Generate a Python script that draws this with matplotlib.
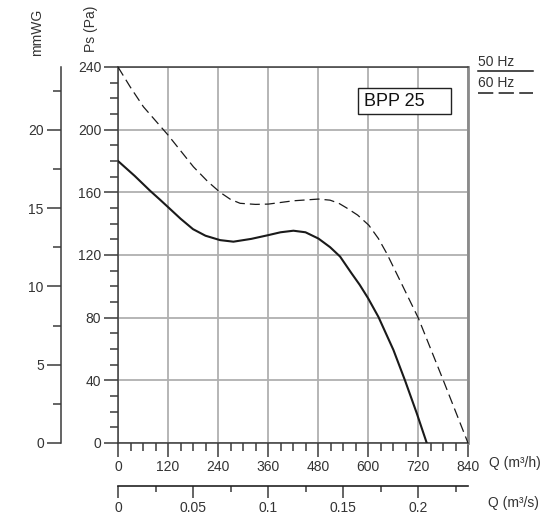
import matplotlib
matplotlib.use("Agg")
import matplotlib.pyplot as plt
from matplotlib.patches import Rectangle
from matplotlib.lines import Line2D
from matplotlib.ticker import MultipleLocator

# curve data: Q in m3/h, Ps in Pa
q_50hz = [0, 40, 77, 100, 120, 150, 180, 210, 245, 277, 320, 361, 390, 421, 450, 481,
          509, 533, 560, 580, 600, 625, 661, 689, 717, 741]
ps_50hz = [180, 170.5, 161, 155.5, 150.6, 143.2, 136.5, 132.3, 129.5, 128.5, 130.3, 132.7, 134.5, 135.5, 134.5, 130.5,
           125, 119, 108.5, 101, 92.5, 80.5, 59.4, 39.8, 19, 0]

q_60hz = [0, 30, 61, 120, 181, 215, 245, 270, 293, 330, 361, 421, 481, 509, 530, 549,
          575, 602, 625, 645, 680, 721, 781, 840]
ps_60hz = [240, 227, 214.6, 196.6, 176.3, 167, 160, 155.5, 153, 152.3, 152.5, 154.6, 155.7, 155, 153, 150,
           145.5, 139, 130.5, 121, 102, 79.6, 39.8, 0]

pa_ticks = [0, 40, 80, 120, 160, 200, 240]
q_ticks = [0, 120, 240, 360, 480, 600, 720, 840]
mmwg_ticks = [0, 5, 10, 15, 20]
qs_ticks = [0, 0.05, 0.1, 0.15, 0.2]
qs_labels = ['0', '0.05', '0.1', '0.15', '0.2']

plt.rcParams['font.family'] = ['Liberation Sans', 'DejaVu Sans']
txt = '#333333'
dark = '#3a3a3a'

W, H = 541, 522
fig = plt.figure(figsize=(W / 100, H / 100), dpi=100)


def fx(px):
    return px / W


def fy(py):
    return 1 - py / H


# main Ps axes
ax = fig.add_axes([fx(118), fy(443), 350 / W, 376 / H])
ax.set_xlim(0, 840)
ax.set_ylim(0, 240)
ax.set_xticks(q_ticks)
ax.set_yticks(pa_ticks)
ax.xaxis.set_minor_locator(MultipleLocator(30))
ax.yaxis.set_minor_locator(MultipleLocator(10))
ax.tick_params(which='major', direction='out', length=10, width=1.1, color=dark,
               labelsize=10, labelcolor=txt, pad=2)
ax.tick_params(which='minor', direction='out', length=5.5, width=1.1, color=dark)
ax.grid(True, which='major', color='#b0b0b0', lw=1.3, zorder=0)
for s in ['left', 'bottom', 'top']:
    ax.spines[s].set_color(dark)
    ax.spines[s].set_linewidth(1.1)
ax.spines['right'].set_color('#8a8a8a')
ax.spines['right'].set_linewidth(2)

ax.plot(q_50hz, ps_50hz, color='#1a1a1a', lw=1.5, zorder=3)
ax.plot(q_60hz, ps_60hz, color='#1a1a1a', lw=0.9, dashes=(8, 4), zorder=3)

# model box
ax.add_patch(Rectangle((fx(358), fy(114)), 93 / W, 26 / H, transform=fig.transFigure,
                       facecolor='white', edgecolor='#222222', lw=1, zorder=4))
fig.text(fx(364), fy(101.5), 'BPP 25', fontsize=13, color='#111111', va='center', ha='left', zorder=5)

# mmWG axis
axm = fig.add_axes([fx(60.5), fy(443), 0.0005, 376 / H])
axm.set_ylim(0, 24)
axm.set_xticks([])
axm.set_yticks(mmwg_ticks)
axm.yaxis.set_minor_locator(MultipleLocator(2.5))
axm.tick_params(which='major', direction='out', length=10, width=1.1, color=dark,
                labelsize=10, labelcolor=txt, pad=2)
axm.tick_params(which='minor', direction='out', length=6, width=1.1, color=dark)
for s in ['right', 'top', 'bottom']:
    axm.spines[s].set_visible(False)
axm.spines['left'].set_color(dark)
axm.spines['left'].set_linewidth(1.1)
axm.patch.set_visible(False)

# m3/s axis
axq = fig.add_axes([fx(118), fy(486), 350 / W, 0.0005])
axq.set_xlim(0, 840 / 3600)
axq.set_yticks([])
axq.set_xticks(qs_ticks)
axq.set_xticklabels(qs_labels)
axq.xaxis.set_minor_locator(MultipleLocator(0.025))
axq.tick_params(which='major', direction='out', length=8.5, width=1.1, color=dark,
                labelsize=10, labelcolor=txt, pad=2)
axq.tick_params(which='minor', direction='out', length=4.5, width=1.1, color=dark)
for s in ['left', 'right', 'top']:
    axq.spines[s].set_visible(False)
axq.spines['bottom'].set_color('#222222')
axq.spines['bottom'].set_linewidth(1.2)
axq.patch.set_visible(False)

# axis titles
fig.text(fx(37), fy(32), 'mmWG', rotation=90, fontsize=10, color=txt, ha='center', va='center')
fig.text(fx(91), fy(29), 'Ps (Pa)', rotation=90, fontsize=10, color=txt, ha='center', va='center')
fig.text(fx(489), fy(463), 'Q (m³/h)', fontsize=10, color=txt, ha='left', va='center')
fig.text(fx(488), fy(503), 'Q (m³/s)', fontsize=10, color=txt, ha='left', va='center')

# legend
fig.text(fx(478), fy(62), '50 Hz', fontsize=10, color=txt, ha='left', va='center')
fig.text(fx(478), fy(83), '60 Hz', fontsize=10, color=txt, ha='left', va='center')
fig.add_artist(Line2D([fx(478), fx(533)], [fy(71.5), fy(71.5)], color='#1a1a1a', lw=1.1))
fig.add_artist(Line2D([fx(478), fx(533)], [fy(92.5), fy(92.5)], color='#1a1a1a', lw=1.1,
                      dashes=(10, 3.5)))

fig.savefig('out.png', dpi=100)
